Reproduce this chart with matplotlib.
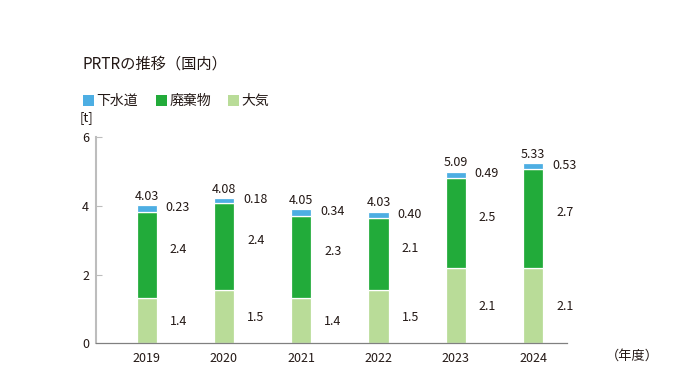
import matplotlib
matplotlib.use("Agg")
import matplotlib.pyplot as plt
from matplotlib.patches import Rectangle

plt.rcParams['font.family'] = ['Noto Sans CJK JP', 'DejaVu Sans']

# ---- data ----
years = ["2019", "2020", "2021", "2022", "2023", "2024"]
series_names = ["下水道", "廃棄物", "大気"]
# segment heights as drawn in the picture [t]
air = [1.31, 1.55, 1.31, 1.55, 2.18, 2.18]
waste = [2.52, 2.53, 2.40, 2.09, 2.64, 2.89]
sewer = [0.19, 0.15, 0.19, 0.19, 0.17, 0.17]
# printed value labels
air_labels = ["1.4", "1.5", "1.4", "1.5", "2.1", "2.1"]
waste_labels = ["2.4", "2.4", "2.3", "2.1", "2.5", "2.7"]
sewer_labels = ["0.23", "0.18", "0.34", "0.40", "0.49", "0.53"]
total_labels = ["4.03", "4.08", "4.05", "4.03", "5.09", "5.33"]
yticks = [0, 2, 4, 6]

c_sewer = "#4DAEE3"
c_waste = "#22AB3A"
c_air = "#B9DC98"
txt = "#231815"

W, H = 686, 390
fig = plt.figure(figsize=(W / 100, H / 100), dpi=100)
ax = fig.add_axes([96 / W, 1 - 343.3 / H, (567 - 96) / W, (343.3 - 137.3) / H])

x = list(range(len(years)))
bw = 0.26
bottom2 = [a + b for a, b in zip(air, waste)]
ax.bar(x, air, bw, color=c_air, edgecolor="white", linewidth=0.9)
ax.bar(x, waste, bw, bottom=air, color=c_waste, edgecolor="white", linewidth=0.9)
ax.bar(x, sewer, bw, bottom=bottom2, color=c_sewer, edgecolor="white", linewidth=0.9)

px = 0.72  # points per pixel
for i in range(len(years)):
    xr = x[i] + bw / 2
    top = bottom2[i] + sewer[i]
    ax.annotate(air_labels[i], xy=(xr, air[i] / 2), xytext=(13 * px, -1 * px),
                textcoords="offset points", ha="left", va="center", fontsize=9, color=txt)
    ax.annotate(waste_labels[i], xy=(xr, air[i] + waste[i] / 2), xytext=(13 * px, 6 * px),
                textcoords="offset points", ha="left", va="center", fontsize=9, color=txt)
    ax.annotate(sewer_labels[i], xy=(xr, bottom2[i] + sewer[i] / 2), xytext=(9 * px, 1 * px),
                textcoords="offset points", ha="left", va="center", fontsize=9, color=txt)
    ax.annotate(total_labels[i], xy=(x[i], top), xytext=(0, 9 * px),
                textcoords="offset points", ha="center", va="center", fontsize=9, color=txt)

ax.set_xlim(-0.656, 5.44)
ax.set_ylim(0, 6)
ax.set_yticks(yticks)
ax.set_xticks(x)
ax.set_xticklabels(years)
for s in ["top", "right"]:
    ax.spines[s].set_visible(False)
ax.spines["left"].set_color("#BDBDBD")
ax.spines["left"].set_linewidth(1.5)
ax.spines["bottom"].set_color("#808080")
ax.spines["bottom"].set_linewidth(0.9)
ax.tick_params(axis="y", direction="in", length=4.5, width=0.8, color="#BDBDBD",
               labelsize=9, labelcolor=txt, pad=5)
ax.tick_params(axis="x", length=0, labelsize=9, labelcolor=txt, pad=6)
ax.yaxis.get_major_ticks()[0].tick1line.set_visible(False)
ax.set_facecolor("none")

# title, unit, year label
fig.text(82 / W, 1 - 64 / H, "PRTRの推移（国内）", fontsize=11, color=txt, ha="left", va="center")
fig.text(80 / W, 1 - 118 / H, "[t]", fontsize=9.5, color=txt, ha="left", va="center")
fig.text(632 / W, 1 - 356 / H, "（年度）", fontsize=9.5, color=txt, ha="center", va="center")

# legend
leg_colors = [c_sewer, c_waste, c_air]
leg_x = [82.7, 156, 227.7]
for name, col, lx in zip(series_names, leg_colors, leg_x):
    fig.add_artist(Rectangle((lx / W, 1 - 106 / H), 11 / W, 11 / H, transform=fig.transFigure,
                             facecolor=col, edgecolor="none"))
    fig.text((lx + 14) / W, 1 - 100.5 / H, name, fontsize=10, color=txt, ha="left", va="center")

fig.savefig("out.png", dpi=100)
